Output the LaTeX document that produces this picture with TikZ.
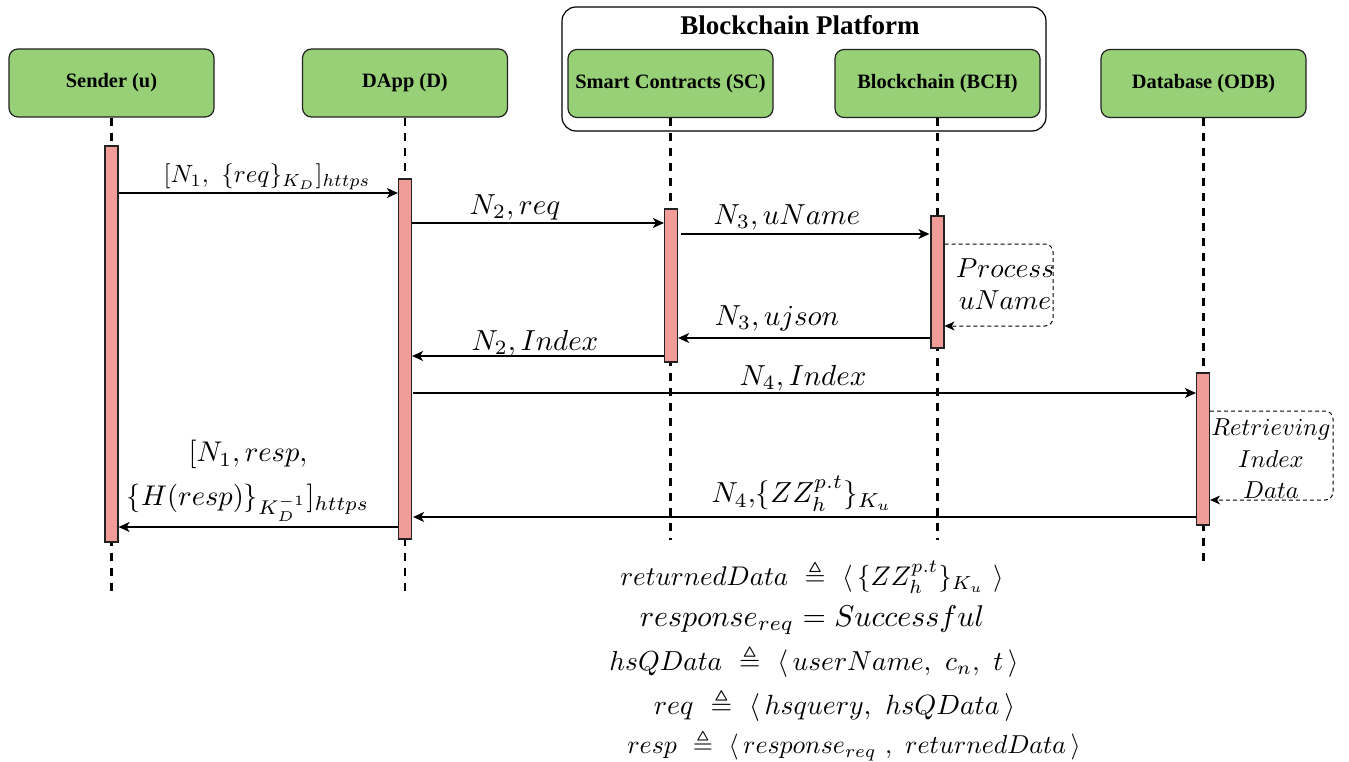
\documentclass[tikz,border=0pt]{standalone}
\usepackage{amsmath,amssymb}
\usepackage[no-math]{fontspec}
\newfontfamily\hdrfont{Liberation Serif}
\usetikzlibrary{arrows.meta}
\definecolor{hdrgreen}{HTML}{97D077}
\definecolor{actred}{HTML}{F19C99}
\definecolor{edgec}{HTML}{222222}
\begin{document}
\begin{tikzpicture}[x=1pt,y=-1pt,
 hdr/.style={draw=edgec, line width=1.2pt, fill=hdrgreen, rounded corners=9pt, minimum width=205pt, minimum height=68pt, font=\hdrfont\bfseries\fontsize{20.4}{24}\selectfont, inner sep=0pt},
 platform/.style={draw=black, line width=1.2pt, rounded corners=14pt, minimum width=484pt, minimum height=124pt, inner sep=0pt},
 act/.style={draw=edgec, line width=1.2pt, fill=actred, minimum width=13pt, inner sep=0pt},
 life/.style={line width=2.5pt, dash pattern=on 8pt off 7pt},
 msg/.style={line width=1.3pt, -{Stealth[length=11pt,width=10pt,inset=3pt]}},
 loopmsg/.style={line width=1pt, dash pattern=on 4pt off 3pt, rounded corners=8pt, -{Stealth[length=10pt,width=9pt,inset=3pt]}},
 lbl/.style={font=\normalsize, scale=2.9, inner sep=0pt, align=center},
 eq/.style={font=\normalsize, inner sep=0pt},
]
\useasboundingbox (0,0) rectangle (1349,762);
% platform
\node[platform] (bp) at (804,69) {};
\node[font=\hdrfont\bfseries\fontsize{27}{30}\selectfont, inner sep=0pt] (bptitle) at (800,25) {Blockchain Platform};
% headers
\node[hdr] (u) at (111.5,83) {\raisebox{-2.5pt}{Sender (u)}};
\node[hdr] (d) at (405,83) {\raisebox{-2.5pt}{DApp (D)}};
\node[hdr] (sc) at (670.5,83.5) {\raisebox{-2.5pt}{Smart Contracts (SC)}};
\node[hdr] (bch) at (937.5,83.5) {\raisebox{-2.5pt}{Blockchain (BCH)}};
\node[hdr] (odb) at (1203.5,83.5) {\raisebox{-2.5pt}{Database (ODB)}};
% lifeline ends
\coordinate (eu) at (111.5,592);
\coordinate (ed) at (405,592);
\coordinate (esc) at (670.5,540);
\coordinate (ebch) at (937.5,540);
\coordinate (eodb) at (1203.5,567);
\draw[life] (u.south) -- (eu);
\draw[life] (d.south) -- (ed);
\draw[life] (sc.south) -- (esc);
\draw[life] (bch.south) -- (ebch);
\draw[life] (odb.south) -- (eodb);
% activation bars
\node[act, minimum height=396pt] (au) at (111.5,344) {};
\node[act, minimum height=360pt] (ad) at (405,359) {};
\node[act, minimum height=153pt] (asc) at (671,285.5) {};
\node[act, minimum height=132pt] (abch) at (937.5,282) {};
\node[act, minimum height=152pt] (aodb) at (1203,449) {};
% messages
\draw[msg] (au.east |- 0,193) -- (ad.west |- 0,193);
\node[lbl, scale=2.5/2.9] (l1) at (267,177) {$[N_1,\ \{req\}_{K_D}]_{https}$};
\draw[msg] (ad.east |- 0,223) -- (asc.west |- 0,223);
\node[lbl] (l2) at (515,207) {$N_2, req$};
\draw[msg] ([xshift=3pt]asc.east |- 0,234) -- ([xshift=-1pt]abch.west |- 0,234);
\node[lbl] (l3) at (787,217) {$N_3, uName$};
\draw[loopmsg] (abch.east |- 0,244) -- (1053,244) -- (1053,326) -- (abch.east |- 0,326);
\node[lbl, scale=2.75/2.9, font=\fontsize{10}{11.6}\selectfont] (l4) at (1005,284) {$Process$\\$uName$};
\draw[msg] (abch.west |- 0,338) -- (asc.east |- 0,338);
\node[lbl] (l5) at (777,318) {$N_3, ujson$};
\draw[msg] (asc.west |- 0,356) -- (ad.east |- 0,356);
\node[lbl] (l6) at (535,343) {$N_2, Index$};
\draw[msg] ([xshift=1pt]ad.east |- 0,393) -- (aodb.west |- 0,393);
\node[lbl] (l7) at (803,378) {$N_4, Index$};
\draw[loopmsg] (aodb.east |- 0,411) -- (1333,411) -- (1333,500) -- (aodb.east |- 0,500);
\node[lbl, scale=2.45/2.9, font=\fontsize{10}{12.9}\selectfont] (l8) at (1271,459) {$Retrieving$\\$Index$\\$Data$};
\draw[msg] (aodb.west |- 0,517) -- ([xshift=1pt]ad.east |- 0,517);
\node[lbl] (l9) at (802,494) {$N_4,\!\{ZZ_h^{p.t}\}_{K_u}$};
\draw[msg] (ad.west |- 0,527) -- (au.east |- 0,527);
\node[lbl, scale=2.85/2.9] (l10) at (248,481) {$[N_1, resp,$\\[3.4pt]$\{H(resp)\}_{K_D^{-1}}]_{https}$};
% definitions
\node[eq, scale=2.7] (q1) at (812,577) {$returnedData\ \triangleq\ \langle\,\{ZZ_h^{p.t}\}_{K_u}\ \rangle$};
\node[eq, scale=3.0] (q2) at (812,620) {$response_{req} = Successful$};
\node[eq, scale=2.75] (q3) at (814,661) {$hsQData\ \triangleq\ \langle\, userName,\ c_n,\ t\,\rangle$};
\node[eq, scale=2.78] (q4) at (834.5,705) {$req\ \triangleq\ \langle\, hsquery,\ hsQData\,\rangle$};
\node[eq, scale=2.59] (q5) at (854,745) {$resp\ \triangleq\ \langle\, response_{req}\ ,\ returnedData\,\rangle$};
\end{tikzpicture}
\end{document}
